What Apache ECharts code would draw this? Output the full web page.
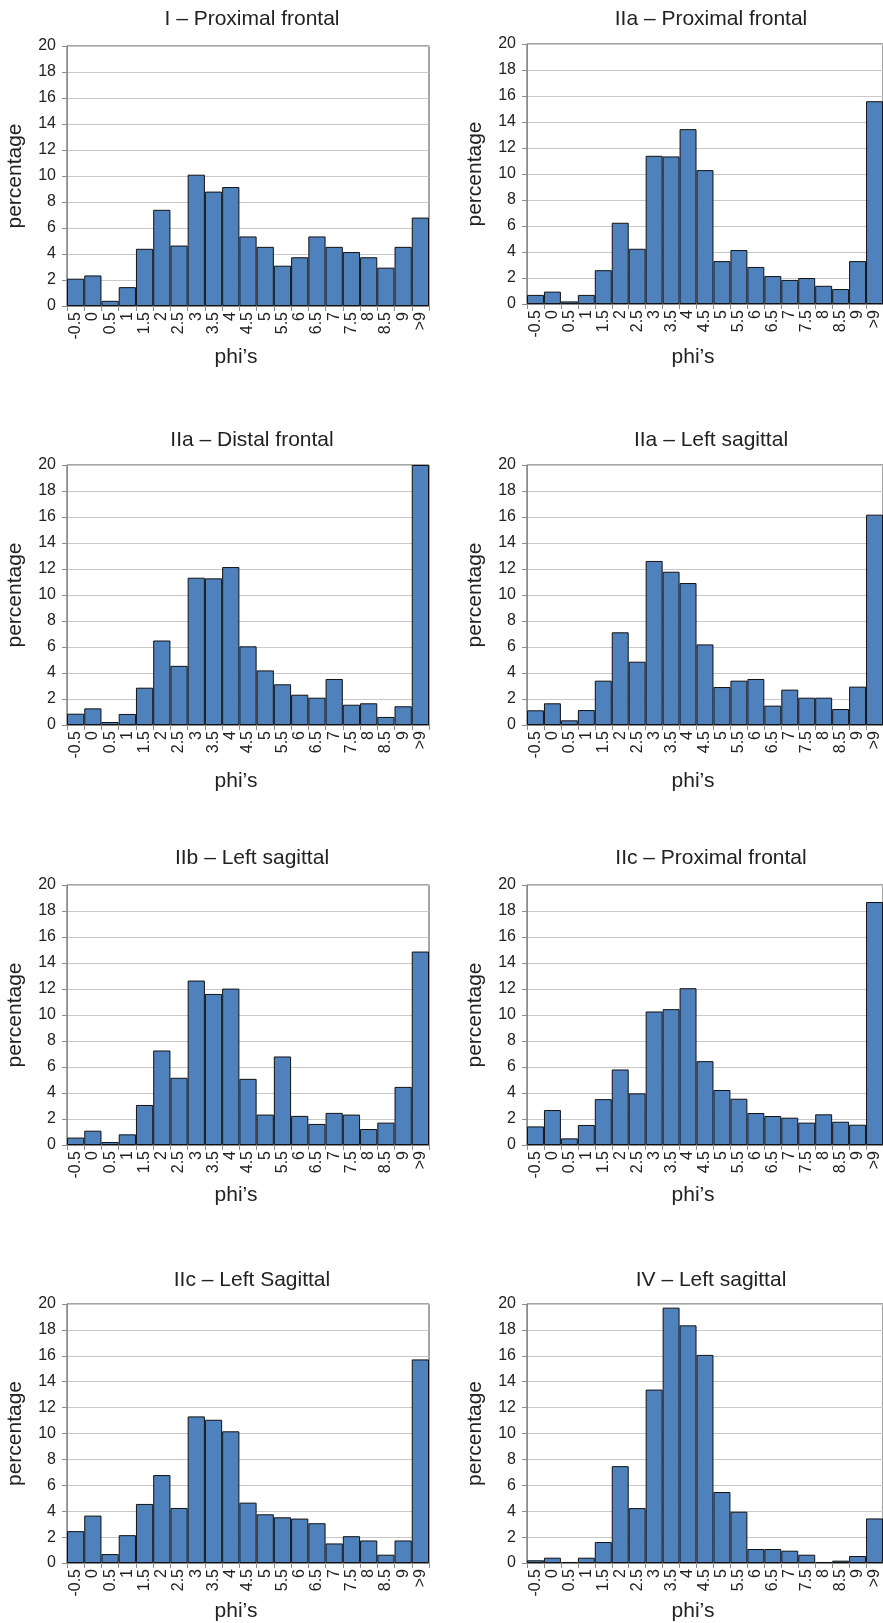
<!DOCTYPE html>
<html>
<head>
<meta charset="utf-8">
<script src="https://cdn.jsdelivr.net/npm/echarts@6/dist/echarts.min.js"></script>
<style>
  html, body { margin: 0; padding: 0; background: #fff; }
  #chart { width: 883px; height: 1623px; }
</style>
</head>
<body>
<div id="chart"></div>
<script>
// data
var phis = ["-0.5", "0", "0.5", "1", "1.5", "2", "2.5", "3", "3.5", "4", "4.5",
  "5", "5.5", "6", "6.5", "7", "7.5", "8", "8.5", "9", ">9"];
var yTicks = { min: 0, max: 20, step: 2 };

var titles = [
  "I – Proximal frontal", "IIa – Proximal frontal",
  "IIa – Distal frontal", "IIa – Left sagittal",
  "IIb – Left sagittal", "IIc – Proximal frontal",
  "IIc – Left Sagittal", "IV – Left sagittal"
];

var iProxFrontal = [2.1, 2.35, 0.4, 1.45, 4.4, 7.4, 4.65, 10.1, 8.8, 9.15, 5.35,
  4.55, 3.1, 3.75, 5.35, 4.55, 4.15, 3.75, 2.95, 4.55, 6.8];
var iiaProxFrontal = [0.7, 0.95, 0.2, 0.7, 2.6, 6.25, 4.25, 11.4, 11.35, 13.45, 10.3,
  3.3, 4.15, 2.85, 2.15, 1.85, 2.0, 1.4, 1.15, 3.3, 15.6];
var iiaDistFrontal = [0.87, 1.28, 0.23, 0.85, 2.87, 6.5, 4.55, 11.33, 11.28, 12.15, 6.05,
  4.2, 3.13, 2.33, 2.1, 3.54, 1.56, 1.67, 0.62, 1.44, 20];
var iiaLeftSag = [1.13, 1.67, 0.36, 1.15, 3.41, 7.13, 4.87, 12.62, 11.79, 10.92, 6.2,
  2.92, 3.41, 3.54, 1.49, 2.72, 2.1, 2.1, 1.23, 2.95, 16.18];
var iibLeftSag = [0.57, 1.1, 0.23, 0.82, 3.08, 7.27, 5.17, 12.65, 11.62, 12.03, 5.09,
  2.34, 6.81, 2.24, 1.62, 2.47, 2.34, 1.23, 1.72, 4.47, 14.88];
var iicProxFrontal = [1.43, 2.69, 0.51, 1.54, 3.53, 5.81, 3.97, 10.27, 10.45, 12.06, 6.45,
  4.23, 3.56, 2.46, 2.23, 2.1, 1.72, 2.36, 1.79, 1.56, 18.69];
var iicLeftSag = [2.46, 3.66, 0.69, 2.15, 4.56, 6.79, 4.25, 11.32, 11.06, 10.17, 4.66,
  3.76, 3.53, 3.43, 3.07, 1.51, 2.07, 1.74, 0.64, 1.74, 15.72];
var ivLeftSag = [0.21, 0.41, 0.08, 0.41, 1.62, 7.48, 4.24, 13.39, 19.72, 18.35, 16.07,
  5.48, 3.96, 1.08, 1.08, 0.95, 0.64, 0.08, 0.18, 0.54, 3.44];

var panels = [iProxFrontal, iiaProxFrontal, iiaDistFrontal, iiaLeftSag,
  iibLeftSag, iicProxFrontal, iicLeftSag, ivLeftSag];

// layout of the 8 small plots
var colLeft = [67, 527];
var plotW = 362;
var rowTop = [[46, 44], [465, 465], [885, 885], [1304, 1304]];
var plotH = 260;
var titleTop = [4, 425, 843, 1265];
var xNameGap = [[41, 43], [46, 46], [40, 40], [38, 38]];

var font = "'Liberation Sans', Arial, Helvetica, sans-serif";
var axisGrey = "#8c8c8c";

var myChart = echarts.init(document.getElementById('chart'));

var grid = [], xAxis = [], yAxis = [], series = [], title = [];

panels.forEach(function (values, i) {
  var row = Math.floor(i / 2), col = i % 2;
  var left = colLeft[col], top = rowTop[row][col];

  grid.push({
    left: left, top: top, width: plotW, height: plotH,
    show: true, borderColor: "#4a4a4a", borderWidth: 1
  });

  title.push({
    text: titles[i],
    left: left + plotW / 2 - (col ? 2 : 1),
    top: titleTop[row],
    textAlign: "center",
    textStyle: { fontFamily: font, fontSize: 21, fontWeight: "normal", color: "#222" }
  });

  xAxis.push({
    type: "category",
    gridIndex: i,
    data: phis,
    name: "phi’s",
    nameLocation: "middle",
    nameGap: xNameGap[row][col],
    nameTextStyle: { fontFamily: font, fontSize: 21, color: "#222", padding: [0, 24, 0, 0] },
    axisLine: { lineStyle: { color: axisGrey } },
    axisTick: { show: true, length: 5, lineStyle: { color: axisGrey } },
    axisLabel: { interval: 0, rotate: 90, margin: 6, fontFamily: font, fontSize: 16, color: "#222" },
    splitLine: { show: false }
  });

  yAxis.push({
    type: "value",
    gridIndex: i,
    min: yTicks.min,
    max: yTicks.max,
    interval: yTicks.step,
    name: "percentage",
    nameLocation: "middle",
    nameGap: 41,
    nameTextStyle: { fontFamily: font, fontSize: 21, color: "#222" },
    axisLine: { show: true, lineStyle: { color: axisGrey } },
    axisTick: { show: true, length: 5, lineStyle: { color: axisGrey } },
    axisLabel: { margin: 11, fontFamily: font, fontSize: 16, color: "#222" },
    splitLine: { lineStyle: { color: "#c8c8c8", width: 1 } }
  });

  series.push({
    type: "bar",
    xAxisIndex: i,
    yAxisIndex: i,
    data: values,
    barCategoryGap: "0%",
    itemStyle: { color: "#4F81BD", borderColor: "#111", borderWidth: 1 },
    animation: false
  });
});

option = {
  backgroundColor: "#fff",
  animation: false,
  title: title,
  grid: grid,
  xAxis: xAxis,
  yAxis: yAxis,
  series: series
};

myChart.setOption(option);
</script>
</body>
</html>
